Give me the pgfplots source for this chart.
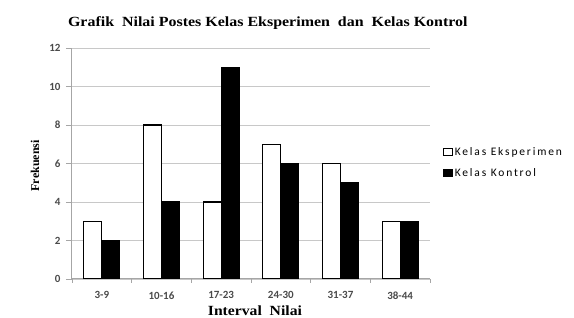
\documentclass[border=0pt]{standalone}
\usepackage{pgfplots}
\pgfplotsset{compat=1.18}
\usepackage{fontspec}
\setmainfont{Liberation Serif}
\newfontfamily\carlito{Carlito}
\newfontfamily\carlitols[LetterSpace=16]{Carlito}
\definecolor{axgray}{HTML}{A6A6A6}
\definecolor{gridgray}{HTML}{C8C8C8}
\definecolor{ticktext}{HTML}{4A4A4A}
\begin{document}
\begin{tikzpicture}
\path[use as bounding box] (-72pt,-39pt) rectangle (502pt,279pt);
\begin{axis}[
  scale only axis, width=358pt, height=231pt,
  anchor=south west, at={(0pt,0pt)},
  xmin=-0.5, xmax=5.5, ymin=0, ymax=12,
  ytick={0,2,...,12},
  xtick={0,...,5},
  xticklabels={3-9,10-16,17-23,24-30,31-37,38-44},
  x tick style={draw=none},
  extra x ticks={-0.5,0.5,1.5,2.5,3.5,4.5,5.5},
  extra x tick labels={,,,,,,},
  extra x tick style={major tick length=4pt, x tick style={draw=axgray, line width=0.6pt}},
  tick align=outside, major tick length=6pt,
  axis x line*=bottom, axis y line*=left,
  axis line style={axgray, line width=1pt, -},
  ymajorgrids, grid style={gridgray, line width=0.7pt},
  y tick style={axgray, line width=0.6pt},
  ybar=0pt, bar width=18pt,
  /pgf/number format/assume math mode=true,
  ticklabel style={font=\carlito\bfseries\fontsize{11}{12}\selectfont, text=ticktext},
  xticklabel style={yshift=-3pt},
  yticklabel style={xshift=-2pt},
  title={\scalebox{1.14}[1]{\bfseries\fontsize{14}{16}\selectfont Grafik\ \ Nilai Postes Kelas Eksperimen\ \ dan\ \ Kelas Kontrol}},
  title style={at={(axis description cs:0.547,1.08)}, anchor=center},
  xlabel={\scalebox{1.12}[1]{\bfseries\fontsize{14}{16}\selectfont Interval\ \ Nilai}},
  xlabel style={at={(axis description cs:0.511,-0.139)}, anchor=center},
  ylabel={\bfseries\fontsize{12}{14}\selectfont Frekuensi},
  ylabel style={at={(axis description cs:-0.103,0.49)}, anchor=center},
  legend style={at={(axis description cs:1.035,0.58)}, anchor=north west, draw=none, fill=none,
    font=\carlitols\fontsize{11.5}{13}\selectfont, row sep=8pt, inner sep=0pt},
  legend cell align=left,
  legend image code/.code={\draw[#1, line width=1.1pt] (0pt,-3.5pt) rectangle (9pt,3.5pt);},
]
\addplot[draw=black, fill=white, line width=1.3pt] coordinates {(0,3)(1,8)(2,4)(3,7)(4,6)(5,3)};
\addplot[draw=black, fill=black, line width=1.3pt] coordinates {(0,2)(1,4)(2,11)(3,6)(4,5)(5,3)};
\legend{Kelas Eksperimen, Kelas Kontrol}
\end{axis}
\end{tikzpicture}
\end{document}
